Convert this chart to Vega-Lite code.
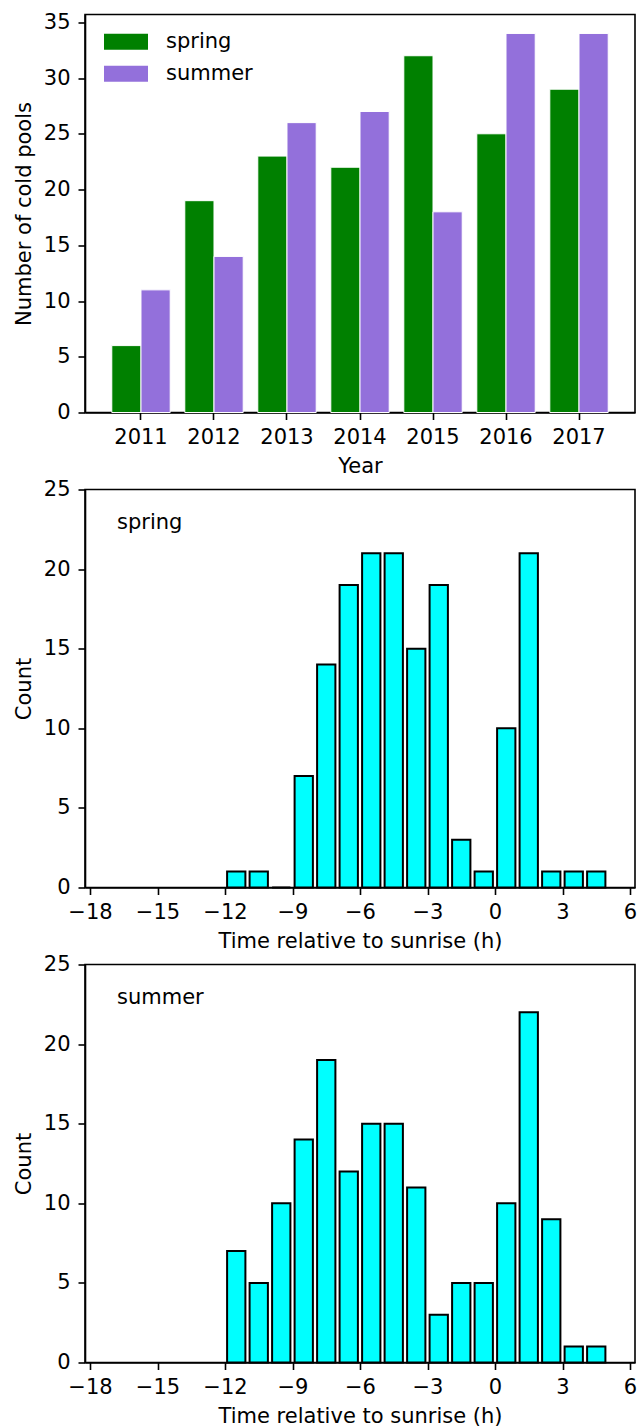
{
  "$schema": "https://vega.github.io/schema/vega-lite/v6.json",
  "padding": {"left": 12, "top": 10.5, "right": 5, "bottom": 5},
  "bounds": "flush",
  "spacing": 77,
  "config": {
    "font": "DejaVu Sans",
    "view": {"stroke": "#000", "strokeWidth": 1.6},
    "axis": {
      "grid": false,
      "domainColor": "#000", "domainWidth": 1.6,
      "tickColor": "#000", "tickWidth": 1.6, "tickSize": 7,
      "labelFont": "DejaVu Sans", "labelFontSize": 21, "labelColor": "#000", "labelPadding": 7,
      "labelFlush": false, "labelOverlap": false,
      "titleFont": "DejaVu Sans", "titleFontSize": 21, "titleFontWeight": "normal", "titleColor": "#000", "titlePadding": 8
    },
    "axisY": {"labelPadding": 8, "titlePadding": 9},
    "legend": {
      "title": null, "padding": 0,
      "labelFont": "DejaVu Sans", "labelFontSize": 21, "labelColor": "#000"
    }
  },
  "vconcat": [
    {
      "width": 550, "height": 398,
      "data": {"values": [
        {"year": "2011", "season": "spring", "count": 6},
        {"year": "2011", "season": "summer", "count": 11},
        {"year": "2012", "season": "spring", "count": 19},
        {"year": "2012", "season": "summer", "count": 14},
        {"year": "2013", "season": "spring", "count": 23},
        {"year": "2013", "season": "summer", "count": 26},
        {"year": "2014", "season": "spring", "count": 22},
        {"year": "2014", "season": "summer", "count": 27},
        {"year": "2015", "season": "spring", "count": 32},
        {"year": "2015", "season": "summer", "count": 18},
        {"year": "2016", "season": "spring", "count": 25},
        {"year": "2016", "season": "summer", "count": 34},
        {"year": "2017", "season": "spring", "count": 29},
        {"year": "2017", "season": "summer", "count": 34}
      ]},
      "mark": {"type": "bar", "stroke": "#ffffff", "strokeWidth": 1},
      "encoding": {
        "x": {"field": "year", "type": "ordinal",
              "scale": {"paddingInner": 0.2, "paddingOuter": 0.367},
              "axis": {"title": "Year", "labelAngle": 0}},
        "xOffset": {"field": "season", "type": "nominal", "scale": {"paddingInner": 0, "paddingOuter": 0}},
        "y": {"field": "count", "type": "quantitative",
              "scale": {"domain": [0, 35.7], "nice": false},
              "axis": {"title": "Number of cold pools", "values": [0, 5, 10, 15, 20, 25, 30, 35]}},
        "color": {"field": "season", "type": "nominal",
                  "scale": {"domain": ["spring", "summer"], "range": ["#008000", "#9370DB"]},
                  "legend": {"orient": "none", "legendX": 19, "legendY": 5.3,
                             "symbolType": "M-1,-0.364H1V0.364H-1Z", "symbolSize": 1936,
                             "symbolStrokeWidth": 0, "labelOffset": 18, "rowPadding": -11.6}}
      }
    },
    {
      "width": 550, "height": 398,
      "layer": [
        {
          "data": {"values": [
            {"hour": -11.5, "count": 1}, {"hour": -10.5, "count": 1}, {"hour": -9.5, "count": 0},
            {"hour": -8.5, "count": 7}, {"hour": -7.5, "count": 14}, {"hour": -6.5, "count": 19},
            {"hour": -5.5, "count": 21}, {"hour": -4.5, "count": 21}, {"hour": -3.5, "count": 15},
            {"hour": -2.5, "count": 19}, {"hour": -1.5, "count": 3}, {"hour": -0.5, "count": 1},
            {"hour": 0.5, "count": 10}, {"hour": 1.5, "count": 21}, {"hour": 2.5, "count": 1},
            {"hour": 3.5, "count": 1}, {"hour": 4.5, "count": 1}
          ]},
          "mark": {"type": "bar", "fill": "#00FFFF", "stroke": "#000", "strokeWidth": 2, "width": 18.3},
          "encoding": {
            "x": {"field": "hour", "type": "quantitative",
                  "scale": {"domain": [-18, 6], "nice": false},
                  "axis": {"title": "Time relative to sunrise (h)", "values": [-18, -15, -12, -9, -6, -3, 0, 3, 6]}},
            "y": {"field": "count", "type": "quantitative",
                  "scale": {"domain": [0, 25], "nice": false},
                  "axis": {"title": "Count", "values": [0, 5, 10, 15, 20, 25]}}
          }
        },
        {
          "data": {"values": [{"label": "spring", "hx": -16.8, "cy": 22.5}]},
          "mark": {"type": "text", "align": "left", "baseline": "alphabetic", "fontSize": 21, "color": "#000"},
          "encoding": {
            "x": {"field": "hx", "type": "quantitative"},
            "y": {"field": "cy", "type": "quantitative"},
            "text": {"field": "label"}
          }
        }
      ]
    },
    {
      "width": 550, "height": 398,
      "layer": [
        {
          "data": {"values": [
            {"hour": -11.5, "count": 7}, {"hour": -10.5, "count": 5}, {"hour": -9.5, "count": 10},
            {"hour": -8.5, "count": 14}, {"hour": -7.5, "count": 19}, {"hour": -6.5, "count": 12},
            {"hour": -5.5, "count": 15}, {"hour": -4.5, "count": 15}, {"hour": -3.5, "count": 11},
            {"hour": -2.5, "count": 3}, {"hour": -1.5, "count": 5}, {"hour": -0.5, "count": 5},
            {"hour": 0.5, "count": 10}, {"hour": 1.5, "count": 22}, {"hour": 2.5, "count": 9},
            {"hour": 3.5, "count": 1}, {"hour": 4.5, "count": 1}
          ]},
          "mark": {"type": "bar", "fill": "#00FFFF", "stroke": "#000", "strokeWidth": 2, "width": 18.3},
          "encoding": {
            "x": {"field": "hour", "type": "quantitative",
                  "scale": {"domain": [-18, 6], "nice": false},
                  "axis": {"title": "Time relative to sunrise (h)", "values": [-18, -15, -12, -9, -6, -3, 0, 3, 6]}},
            "y": {"field": "count", "type": "quantitative",
                  "scale": {"domain": [0, 25], "nice": false},
                  "axis": {"title": "Count", "values": [0, 5, 10, 15, 20, 25]}}
          }
        },
        {
          "data": {"values": [{"label": "summer", "hx": -16.8, "cy": 22.5}]},
          "mark": {"type": "text", "align": "left", "baseline": "alphabetic", "fontSize": 21, "color": "#000"},
          "encoding": {
            "x": {"field": "hx", "type": "quantitative"},
            "y": {"field": "cy", "type": "quantitative"},
            "text": {"field": "label"}
          }
        }
      ]
    }
  ]
}
